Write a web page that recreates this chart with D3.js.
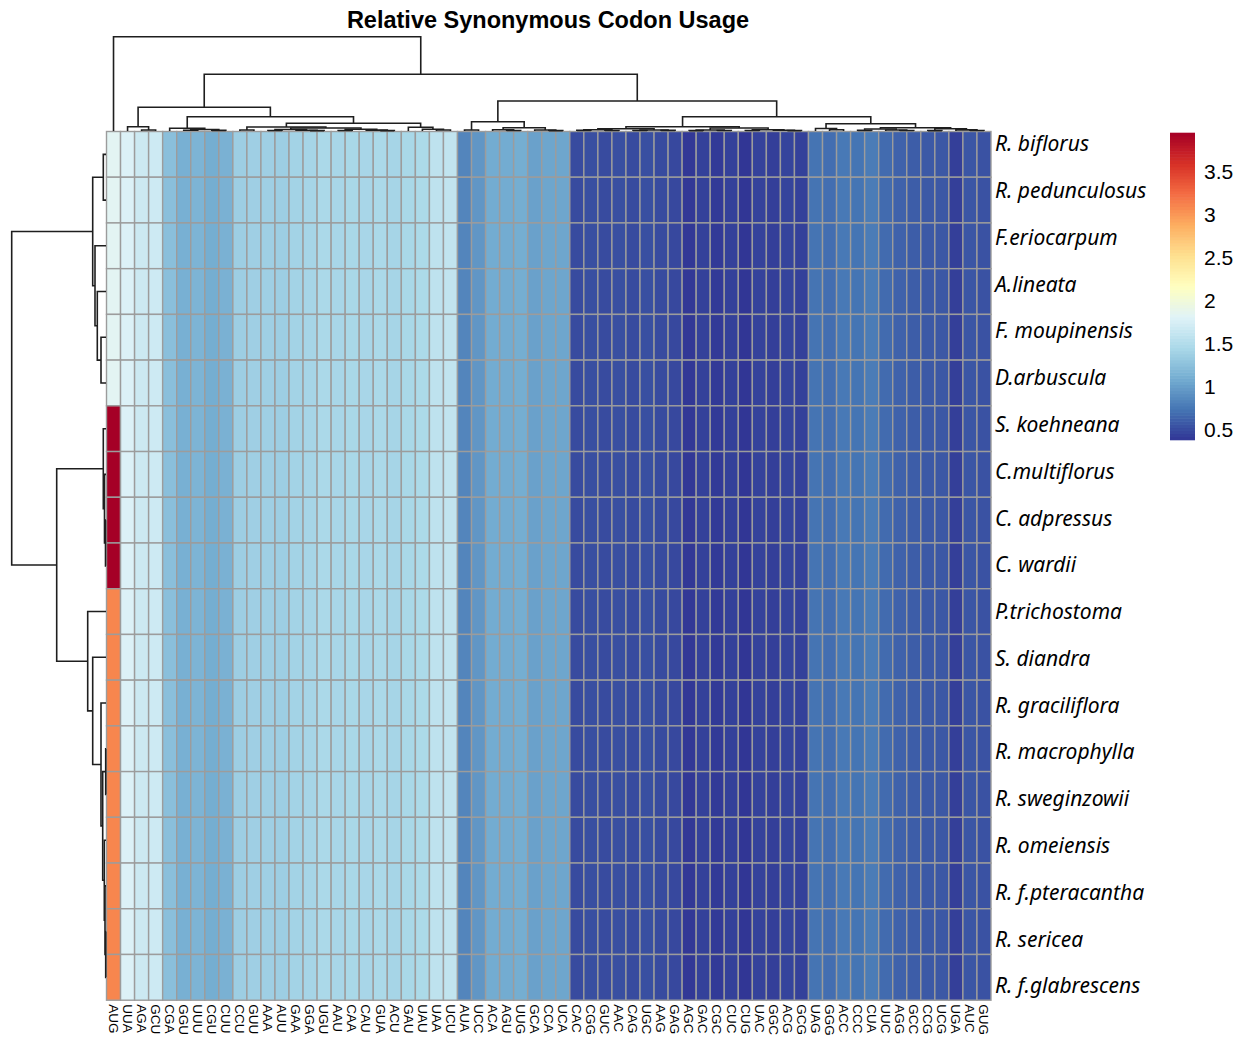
<!DOCTYPE html>
<html>
<head>
<meta charset="utf-8">
<script src="https://cdn.jsdelivr.net/npm/d3@7"></script>
<style>
  html, body { margin: 0; padding: 0; background: #fff; }
  svg { display: block; }
</style>
</head>
<body>
<svg id="chart" width="1250" height="1037"></svg>
<script>
// ---------------- DATA ----------------
const title = "Relative Synonymous Codon Usage";

const codons = ["AUG","UUA","AGA","GCU","CGA","GGU","UUU","CGU","CUU","CCU","GUU","AAA","AUU","GAA","GGA","UGU",
  "AAU","CAA","CAU","GUA","ACU","GAU","UAU","UAA","UCU","AUA","UCC","ACA","AGU","UUG","GCA","CCA","UCA",
  "CAC","CGG","GUC","AAC","CAG","UGC","AAG","GAG","AGC","GAC","CGC","CUC","CUG","UAC","GGC","ACG","GCG",
  "UAG","GGG","ACC","CCC","CUA","UUC","AGG","GCC","CCG","UCG","UGA","AUC","GUG"];

const species = ["R. biflorus","R. pedunculosus","F.eriocarpum","A.lineata","F. moupinensis","D.arbuscula",
  "S. koehneana","C.multiflorus","C. adpressus","C. wardii","P.trichostoma","S. diandra","R. graciliflora",
  "R. macrophylla","R. sweginzowii","R. omeiensis","R. f.pteracantha","R. sericea","R. f.glabrescens"];

// RSCU per codon (shared by all species)
const rscu = [null,1.78,1.67,1.68,1.24,1.12,1.15,1.10,1.13,1.36,1.37,1.37,1.36,1.40,1.42,1.45,
  1.43,1.44,1.43,1.45,1.42,1.44,1.46,1.58,1.60,0.84,0.95,1.09,1.09,1.10,1.02,1.05,1.05,
  0.50,0.52,0.50,0.52,0.50,0.52,0.50,0.48,0.39,0.44,0.40,0.44,0.38,0.45,0.43,0.46,0.44,
  0.73,0.70,0.76,0.74,0.78,0.68,0.63,0.60,0.58,0.57,0.43,0.56,0.54];

// AUG column differs by species
const augRscu = [1.84,1.84,1.84,1.84,1.84,1.84,3.95,3.95,3.95,3.95,3.10,3.10,3.10,3.10,3.10,3.10,3.10,3.10,3.10];

const legendTicks = [0.5,1,1.5,2,2.5,3,3.5];

const palette = ["#313695","#4575B4","#74ADD1","#ABD9E9","#E0F3F8","#FFFFBF","#FEE090","#FDAE61","#F46D43","#D73027","#A50026"];

// dendrograms: [height, left, right]
const colTree = [94.3, "AUG",
  [56.7,
    [23.7,
      [4.3, "UUA", [1.0, "AGA", "GCU"]],
      [14.3,
        [2.7, "CGA", [1.5, [0.8,"GGU","UUU"], [0.6,"CGU","CUU"]]],
        [7.7,
          [4.0, [1.0,"CCU","GUU"], [3.0, [1.5,[0.5,"AAA","AUU"],[0.8,"GAA",[0.4,"GGA","UGU"]]], [1.8,[0.5,"AAU","CAA"],[0.9,"CAU",[0.4,"GUA","ACU"]]]]],
          [3.7, "GAU", [1.8, "UAU", [1.0, "UAA", "UCU"]]]
        ]
      ]
    ],
    [30,
      [9.3, [1.0,"AUA","UCC"], [3.3, [1.2,"ACA",[0.5,"AGU","UUG"]], [1.0,"GCA",[0.4,"CCA","UCA"]]]],
      [14.3,
        [4.3, [2.2,[1.2,[0.6,"CAC","CGG"],[0.5,"GUC","AAC"]],[1.0,[0.5,"CAG","UGC"],[0.6,"AAG","GAG"]]],
              [3.0,[1.0,[0.4,"AGC","GAC"],[0.5,"CGC","CUC"]],[1.3,[0.5,"CUG","UAC"],[0.8,"GGC",[0.4,"ACG","GCG"]]]]],
        [7.3, [2.5,"UAG",[1.2,"GGG","ACC"]],
              [3.3,[2.0,[0.6,"CCC","CUA"],[1.0,"UUC",[0.5,"AGG","GCC"]]],[2.2,[0.4,"CCG","UCG"],[1.1,"UGA",[0.5,"AUC","GUG"]]]]]
      ]
    ]
  ]
];

const rowTree = [94.3,
  [13.3, [2.7, "R. biflorus", "R. pedunculosus"], [11, "F.eriocarpum", [8.7, "A.lineata", [5, "F. moupinensis", "D.arbuscula"]]]],
  [49.3,
    [2.7, "S. koehneana", [1.5, "C.multiflorus", [0.5, "C. adpressus", "C. wardii"]]],
    [18.3, "P.trichostoma", [13.3, "S. diandra", [5, "R. graciliflora",
      [3.3, [0.3, "R. macrophylla", "R. sweginzowii"], [1.7, "R. omeiensis", [1.0, "R. f.pteracantha", [0.3, "R. sericea", "R. f.glabrescens"]]]]]]]
  ]
];

// ---------------- DRAW ----------------
const svg = d3.select("#chart");
const L = 106.5, R = 991, T = 131.5, B = 1000.2;

const x = d3.scaleBand().domain(codons).range([L, R]);
const y = d3.scaleBand().domain(species).range([T, B]);
const yLabel = d3.scalePoint().domain(species).range([144, 986]);

const cells = [];
species.forEach((s, i) => codons.forEach((c, j) => {
  cells.push({s, c, v: j === 0 ? augRscu[i] : rscu[j]});
}));

const [vmin, vmax] = d3.extent(cells, d => d.v);
const color = d3.scaleLinear()
  .domain(palette.map((_, i) => vmin + i * (vmax - vmin) / (palette.length - 1)))
  .range(palette)
  .interpolate(d3.interpolateRgb);

svg.append("g").selectAll("rect").data(cells).join("rect")
  .attr("x", d => x(d.c)).attr("y", d => y(d.s))
  .attr("width", x.bandwidth()).attr("height", y.bandwidth())
  .attr("fill", d => color(d.v))
  .attr("stroke", "#9c9c9c").attr("stroke-width", 1.4);

// title
svg.append("text").attr("x", 548).attr("y", 28)
  .attr("text-anchor", "middle")
  .style("font-family", "'Liberation Sans', Arial, sans-serif")
  .style("font-weight", "bold").style("font-size", "23.5px")
  .text(title);

// row labels
svg.append("g").selectAll("text").data(species).join("text")
  .attr("x", R + 4).attr("y", d => yLabel(d))
  .attr("dy", "0.35em")
  .style("font-family", "'Noto Sans', sans-serif")
  .style("font-style", "italic").style("font-size", "21px")
  .text(d => d);

// column labels
svg.append("g").selectAll("text").data(codons).join("text")
  .attr("transform", d => `translate(${x(d) + x.bandwidth() / 2},${B + 4}) rotate(90)`)
  .attr("dy", "0.35em")
  .style("font-family", "'Liberation Sans', Arial, sans-serif")
  .style("font-size", "13.5px")
  .text(d => d);

// dendrograms
function walk(node, pos, segs) {
  if (typeof node === "string") return {p: pos(node), h: 0};
  const a = walk(node[1], pos, segs), b = walk(node[2], pos, segs);
  segs.push({a, b, h: node[0]});
  return {p: (a.p + b.p) / 2, h: node[0]};
}

const colSegs = [];
walk(colTree, c => x(c) + x.bandwidth() / 2, colSegs);
const hy = d3.scaleLinear().domain([0, colTree[0]]).range([T - 0.5, 36.7]);
svg.append("g").selectAll("path").data(colSegs).join("path")
  .attr("d", s => `M${s.a.p},${hy(s.a.h)}V${hy(s.h)}H${s.b.p}V${hy(s.b.h)}`)
  .attr("fill", "none").attr("stroke", "#1e1e1e").attr("stroke-width", 1.6);

const rowSegs = [];
walk(rowTree, s => y(s) + y.bandwidth() / 2, rowSegs);
const hx = d3.scaleLinear().domain([0, rowTree[0]]).range([L - 0.5, 11.7]);
svg.append("g").selectAll("path").data(rowSegs).join("path")
  .attr("d", s => `M${hx(s.a.h)},${s.a.p}H${hx(s.h)}V${s.b.p}H${hx(s.b.h)}`)
  .attr("fill", "none").attr("stroke", "#1e1e1e").attr("stroke-width", 1.6);

// legend
const ly = d3.scaleLinear().domain([vmin, vmax]).range([440, 133]);
const nSteps = 100;
const legStops = d3.range(nSteps).map(i => vmin + (i + 0.5) * (vmax - vmin) / nSteps);
const stepH = (440 - 133) / nSteps;
svg.append("g").selectAll("rect").data(legStops).join("rect")
  .attr("x", 1170).attr("width", 25)
  .attr("y", d => ly(d) - stepH / 2 - 0.3).attr("height", stepH + 0.6)
  .attr("fill", d => color(d));
svg.append("g").selectAll("text").data(legendTicks).join("text")
  .attr("x", 1204).attr("y", d => ly(d)).attr("dy", "0.35em")
  .style("font-family", "'Liberation Sans', Arial, sans-serif")
  .style("font-size", "21px")
  .text(d => d);
</script>
</body>
</html>
